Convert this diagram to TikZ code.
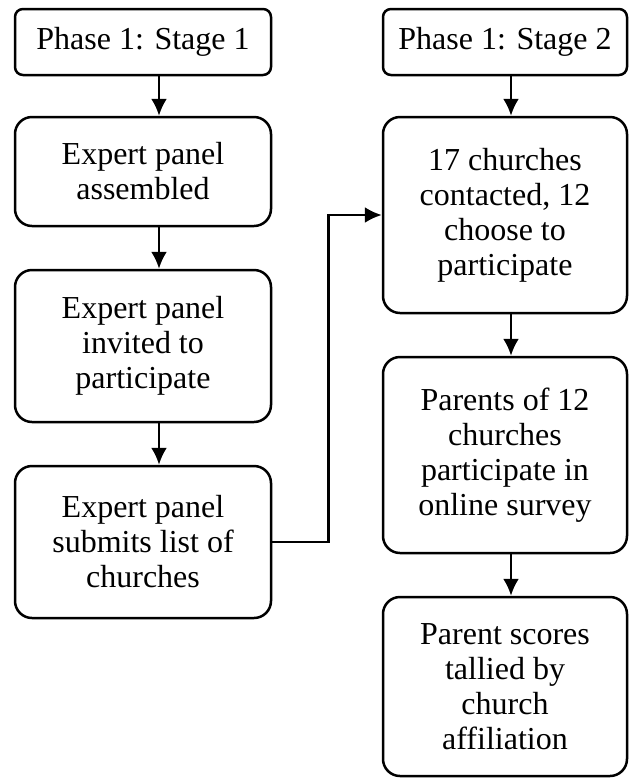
\documentclass[tikz,border=0pt]{standalone}
\usepackage{fontspec}
\setmainfont{Liberation Serif}
\usetikzlibrary{arrows.meta, positioning}
\tikzset{
  phasebox/.style={draw=black, line width=1.25pt, rounded corners=4pt, fill=white, align=center, minimum height=33pt, inner sep=2pt, font=\fontsize{16}{17.5}\selectfont},
  stepbox/.style={draw=black, line width=1.25pt, rounded corners=8.5pt, fill=white, align=center, inner sep=2pt, font=\fontsize{16}{17.5}\selectfont},
  arrow/.style={-{Latex[length=8.5pt, width=8pt]}, line width=1.25pt, draw=black}
}

\begin{document}
\begin{tikzpicture}[x=0.5pt, y=-0.5pt]
\useasboundingbox (0,0) rectangle (628,778);
% stage 1
\node[phasebox, minimum width=128pt] (stageA) at (143,42) {Phase 1: Stage 1};
\node[stepbox, minimum width=128pt, minimum height=54.5pt] (assemble) at (143,171.5) {Expert panel\\assembled};
\node[stepbox, minimum width=128pt, minimum height=76pt] (invite) at (143,346) {Expert panel\\invited to\\participate};
\node[stepbox, minimum width=128pt, minimum height=76pt] (submit) at (143,542) {Expert panel\\submits list of\\churches};
% stage 2
\node[phasebox, minimum width=122pt] (stageB) at (505,42) {Phase 1: Stage 2};
\node[stepbox, minimum width=122pt, minimum height=98pt] (contact) at (505,215) {17 churches\\contacted, 12\\choose to\\participate};
\node[stepbox, minimum width=122pt, minimum height=98pt] (survey) at (505,455) {Parents of 12\\churches\\participate in\\online survey};
\node[stepbox, minimum width=122pt, minimum height=89.5pt] (tally) at (505,686.5) {Parent scores\\tallied by\\church\\affiliation};
% connectors
\draw[arrow] ([xshift=8pt]stageA.south) -- ([xshift=8pt]assemble.north);
\draw[arrow] ([xshift=8pt]assemble.south) -- ([xshift=8pt]invite.north);
\draw[arrow] ([xshift=8pt]invite.south) -- ([xshift=8pt]submit.north);
\draw[arrow] ([xshift=3pt]stageB.south) -- ([xshift=3pt]contact.north);
\draw[arrow] ([xshift=3pt]contact.south) -- ([xshift=3pt]survey.north);
\draw[arrow] ([xshift=3pt]survey.south) -- ([xshift=3pt]tally.north);
\draw[arrow] (submit.east) -- ++(56,0) |- (contact.west);
\end{tikzpicture}
\end{document}
